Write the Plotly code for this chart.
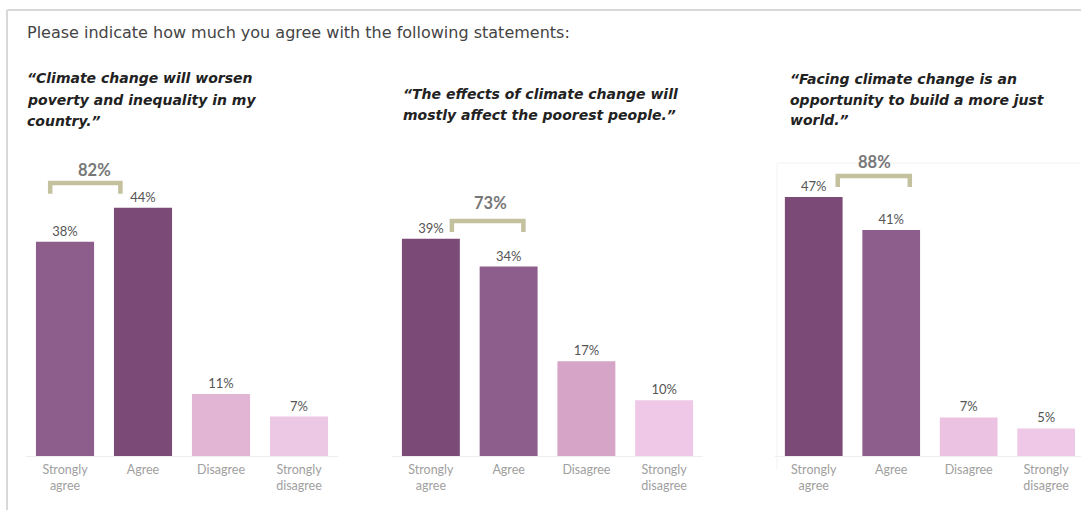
import plotly.graph_objects as go

W, H = 1081, 510

categories = ["Strongly agree", "Agree", "Disagree", "Strongly disagree"]
tick_labels = ["Strongly<br>agree", "Agree", "Disagree", "Strongly<br>disagree"]

statements = [
    ["“Climate change will worsen", "poverty and inequality in my", "country.”"],
    ["“The effects of climate change will", "mostly affect the poorest people.”"],
    ["“Facing climate change is an", "opportunity to build a more just", "world.”"],
]
values_1 = [38, 44, 11, 7]
values_2 = [39, 34, 17, 10]
values_3 = [47, 41, 7, 5]
all_values = [values_1, values_2, values_3]

title_text = "Please indicate how much you agree with the following statements:"

# styles
DARK = "#7b4a77"
MED = "#8d5e8b"
colors = [
    [MED, DARK, "#e3b5d5", "#edc8e5"],
    [DARK, MED, "#d6a4c6", "#eec8e6"],
    [DARK, MED, "#ebc2e2", "#eec8e6"],
]
FONT = "Lato"
HEAD_FONT = "DejaVu Sans"

# layout (pixel) settings per panel
x_dom_px = [(26, 338), (392, 703), (775, 1081)]
x_ranges = [(-0.5, 3.5), (-0.5, 3.5), (-0.5, 3.45)]
px_per_unit = [5.64, 5.57, 5.51]
base_px = 456          # baseline from top
top_px = 150           # plot top from top
bracket_x = [(-0.19, 0.71), (0.27, 1.19), (0.31, 1.24)]
bracket_y = [(46.5, 48.4), (40.2, 42.2), (48.8, 50.8)]
bracket_lbl = [(0.38, 50.7), (0.77, 45.4), (0.79, 53.4)]
subtitle_x = [25, 401, 788]
subtitle_lines_y = [[78, 100, 121], [94, 115], [79, 100, 120]]

fig = go.Figure()
xs = list(range(len(categories)))

for i, vals in enumerate(all_values):
    sfx = "" if i == 0 else str(i + 1)
    fig.add_trace(go.Bar(
        x=xs, y=vals, width=0.745,
        marker=dict(color=colors[i], line=dict(width=0)),
        text=[f"{v}%" for v in vals], textposition="outside",
        textfont=dict(family=FONT, size=13, color="#555555"),
        cliponaxis=False, showlegend=False, hoverinfo="skip",
        xaxis="x" + sfx, yaxis="y" + sfx,
    ))
    # bracket for agree total
    (bx0, bx1), (byl, byt) = bracket_x[i], bracket_y[i]
    fig.add_trace(go.Scatter(
        x=[bx0, bx0, bx1, bx1], y=[byl, byt, byt, byl], mode="lines",
        line=dict(color="#c4c19e", width=4.5), showlegend=False,
        hoverinfo="skip", cliponaxis=False,
        xaxis="x" + sfx, yaxis="y" + sfx,
    ))
    total = vals[0] + vals[1]
    lx, ly = bracket_lbl[i]
    fig.add_annotation(
        x=lx, y=ly, xref="x" + sfx, yref="y" + sfx, text=f"<b>{total}%</b>",
        showarrow=False, font=dict(family=FONT, size=16.5, color="#777777"),
    )
    d0, d1 = x_dom_px[i]
    ybot = (H - base_px) / H
    ytop = (H - top_px) / H
    height_px = base_px - top_px
    fig.update_layout(**{
        "xaxis" + sfx: dict(
            domain=[d0 / W, d1 / W], range=list(x_ranges[i]),
            tickvals=xs, ticktext=tick_labels, showgrid=False, zeroline=False,
            showline=True, linecolor="#eeeeee", linewidth=1, ticks="",
            tickfont=dict(family=FONT, size=12.5, color="#a0a0a0"),
            ticklabelstandoff=2,
            anchor="y" + sfx, fixedrange=True,
        ),
        "yaxis" + sfx: dict(
            domain=[ybot, ytop], range=[0, height_px / px_per_unit[i]],
            visible=False, showgrid=False, zeroline=False,
            anchor="x" + sfx, fixedrange=True,
        ),
    })
    for line, ly_px in zip(statements[i], subtitle_lines_y[i]):
        fig.add_annotation(
            x=subtitle_x[i] / W, y=1 - ly_px / H, xref="paper", yref="paper",
            xanchor="left", yanchor="middle", align="left", showarrow=False,
            text=f"<b><i>{line}</i></b>",
            font=dict(family=HEAD_FONT, size=14, color="#222222"),
        )

fig.add_annotation(
    x=25 / W, y=1 - 32 / H, xref="paper", yref="paper",
    xanchor="left", yanchor="middle", showarrow=False, text=title_text,
    font=dict(family=HEAD_FONT, size=16, color="#444444"),
)

# frame lines
fig.add_shape(type="line", xref="paper", yref="paper",
              x0=7 / W, x1=1, y0=1 - 10 / H, y1=1 - 10 / H,
              line=dict(color="#d9d9d9", width=2))
fig.add_shape(type="line", xref="paper", yref="paper",
              x0=7 / W, x1=7 / W, y0=0, y1=1 - 10 / H,
              line=dict(color="#d9d9d9", width=2))
# faint panel edges
fig.add_shape(type="line", xref="paper", yref="paper",
              x0=777 / W, x1=1, y0=1 - 163 / H, y1=1 - 163 / H,
              line=dict(color="#f3f3f3", width=1))
fig.add_shape(type="line", xref="paper", yref="paper",
              x0=777 / W, x1=777 / W, y0=1 - 470 / H, y1=1 - 163 / H,
              line=dict(color="#f3f3f3", width=1))

fig.update_layout(
    width=W, height=H, margin=dict(l=0, r=0, t=0, b=0),
    paper_bgcolor="white", plot_bgcolor="rgba(0,0,0,0)",
    bargap=0.25,
)

fig.write_html("out.html", config={"displayModeBar": False})
